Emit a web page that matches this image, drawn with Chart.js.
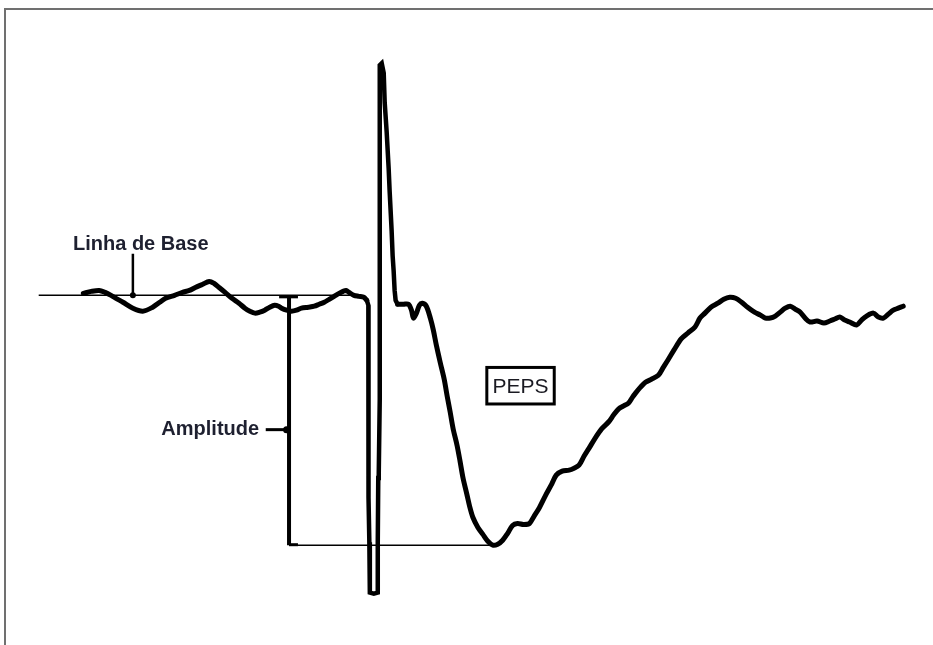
<!DOCTYPE html>
<html>
<head>
<meta charset="utf-8">
<script src="https://cdn.jsdelivr.net/npm/chart.js@4"></script>
<style>
  html, body { margin: 0; padding: 0; background: #fff; }
  #wrap { position: relative; width: 933px; height: 645px; overflow: hidden; background:#fff; }
  #frame { position: absolute; left: 4px; top: 8px; width: 960px; height: 700px;
           border-top: 2px solid #707070; border-left: 2px solid #707070; pointer-events:none; }
  canvas { position: absolute; left: 0; top: 0; }
</style>
</head>
<body>
<div id="wrap">
<canvas id="c" width="933" height="645"></canvas>
<div id="frame"></div>
</div>
<script>
// Time (ms) and membrane potential relative to baseline (mV) of the recorded trace
const timeMs = [8.0,8.8,9.6,10.2,10.8,11.3,12.0,13.0,14.0,15.0,15.7,16.3,17.2,18.0,18.7,19.3,20.0,20.7,21.2,21.7,22.3,23.0,23.7,24.3,24.8,25.3,25.8,26.3,26.8,27.3,27.7,28.0,28.5,29.0,29.5,30.0,30.7,31.3,31.8,32.3,32.8,33.3,33.8,34.2,34.5,34.8,35.3,35.8,36.3,36.6,36.75,36.75,36.75,36.8,36.85,36.9,37.3,37.7,37.7,37.75,37.8,37.9,37.9,37.9,38.1,38.3,38.4,38.6,38.8,38.9,39.1,39.2,39.3,39.4,39.5,39.7,40.3,40.8,41.1,41.3,41.6,41.9,42.2,42.6,43.0,43.3,43.6,44.0,44.4,44.7,45.0,45.3,45.7,46.0,46.3,46.7,47.0,47.3,47.8,48.3,48.8,49.3,49.8,50.3,50.8,51.3,51.8,52.4,53.0,53.5,54.0,54.6,55.2,55.7,56.3,57.0,57.5,58.0,58.5,59.0,59.6,60.3,61.0,61.5,62.0,62.5,63.0,63.4,63.7,64.2,64.7,65.3,66.0,66.5,67.0,67.6,68.3,69.0,69.7,70.2,70.7,71.3,72.0,72.6,73.2,73.8,74.4,75.0,75.7,76.3,76.8,77.3,77.8,78.3,78.8,79.3,79.8,80.3,80.8,81.3,82.0,82.7,83.3,83.8,84.3,84.8,85.3,86.0,86.5,87.0,87.7,88.2,88.7,89.2,89.7,90.2,90.7];
const voltageMv = [0.2,0.4,0.5,0.3,0.0,-0.3,-0.7,-1.3,-1.6,-1.2,-0.7,-0.3,0.0,0.3,0.5,0.8,1.1,1.4,1.2,0.8,0.3,-0.3,-0.8,-1.3,-1.6,-1.8,-1.7,-1.5,-1.2,-1.0,-1.1,-1.3,-1.5,-1.6,-1.5,-1.3,-1.2,-1.1,-0.9,-0.7,-0.4,-0.1,0.2,0.4,0.5,0.3,0.0,-0.1,-0.2,-0.5,-1.0,-3.5,-10.5,-20.5,-25.0,-30.1,-30.2,-30.1,-25.0,-18.5,-18.0,-10.5,9.5,23.3,23.5,22.5,19.5,16.5,12.8,10.5,6.5,4.0,2.5,0.5,-0.5,-0.9,-0.9,-0.9,-1.5,-2.3,-1.8,-1.0,-0.8,-1.1,-2.3,-3.5,-5.0,-6.8,-8.5,-10.2,-11.8,-13.5,-15.2,-16.8,-18.5,-20.2,-21.5,-22.5,-23.5,-24.2,-24.9,-25.3,-25.2,-24.8,-24.1,-23.3,-23.1,-23.2,-23.1,-22.3,-21.5,-20.3,-19.2,-18.2,-17.8,-17.7,-17.5,-17.2,-16.3,-15.5,-14.5,-13.5,-12.8,-12.1,-11.5,-11.2,-10.9,-10.3,-9.9,-9.3,-8.8,-8.5,-8.1,-7.3,-6.5,-5.5,-4.4,-3.8,-3.2,-2.3,-1.8,-1.2,-0.8,-0.4,-0.2,-0.3,-0.7,-1.2,-1.7,-2.0,-2.3,-2.3,-2.1,-1.7,-1.3,-1.1,-1.4,-1.7,-2.3,-2.7,-2.6,-2.8,-2.6,-2.4,-2.2,-2.5,-2.7,-3.0,-2.5,-2.1,-1.8,-2.2,-2.3,-1.9,-1.5,-1.3,-1.1];
// Sample indices bounding the stimulus artifact (drawn without smoothing)
const artifactStart = 49;
const artifactEnd = 75;

// Annotation values (ms, mV)
const baselineSpan = [3.5, 35.0];
const baselineLevel = 0;
const peakLevel = -25.3;
const amplitudeX = 28.75;
const peakX = 49.3;
const baseLabel = "Linha de Base";
const baseLabelAt = [13.8, 5.15];
const basePointer = [13.0, 4.2, 0];
const ampLabel = "Amplitude";
const ampLabelAt = [20.8, -13.6];
const ampPointer = [26.4, 28.5, -13.6];
const pepsLabel = "PEPS";
const pepsBox = [48.7, 55.5, -7.3, -11.0];

const xRange = [0, 93.3];
const yRange = [-35, 29.5];

const trace = timeMs.map((t, i) => ({ x: t, y: voltageMv[i] }));
const tracePre = trace.slice(0, artifactStart + 1);
const traceArtifact = trace.slice(artifactStart, artifactEnd + 1);
const tracePost = trace.slice(artifactEnd);

function seg(points, width, extra) {
  return Object.assign({
    data: points, borderColor: '#000', backgroundColor: '#000', borderWidth: width,
    pointRadius: 0, tension: 0, fill: false, borderCapStyle: 'butt'
  }, extra || {});
}

const labelsPlugin = {
  id: 'labels',
  afterDatasetsDraw(chart) {
    const { ctx, scales: { x, y } } = chart;
    ctx.save();
    ctx.fillStyle = '#1e2030';
    ctx.textAlign = 'center';
    ctx.textBaseline = 'middle';
    ctx.font = 'bold 20px "Liberation Sans", Arial, sans-serif';
    ctx.fillText(baseLabel, x.getPixelForValue(baseLabelAt[0]), y.getPixelForValue(baseLabelAt[1]));
    ctx.fillText(ampLabel, x.getPixelForValue(ampLabelAt[0]), y.getPixelForValue(ampLabelAt[1]));
    // PEPS box
    const x0 = x.getPixelForValue(pepsBox[0]), x1 = x.getPixelForValue(pepsBox[1]);
    const y0 = y.getPixelForValue(pepsBox[2]), y1 = y.getPixelForValue(pepsBox[3]);
    ctx.lineWidth = 3;
    ctx.strokeStyle = '#000';
    ctx.strokeRect(x0, y0, x1 - x0, y1 - y0);
    ctx.font = '21px "Liberation Sans", Arial, sans-serif';
    ctx.fillStyle = '#1a1a22';
    ctx.fillText(pepsLabel, (x0 + x1) / 2, (y0 + y1) / 2 + 1);
    ctx.restore();
  }
};

new Chart(document.getElementById('c'), {
  type: 'line',
  data: {
    datasets: [
      seg(tracePre, 5, { borderJoinStyle: 'round', borderCapStyle: 'round', tension: 0.3 }),
      seg(traceArtifact, 4.5, { borderJoinStyle: 'miter', borderCapStyle: 'round', tension: 0 }),
      seg(tracePost, 5, { borderJoinStyle: 'round', borderCapStyle: 'round', tension: 0.3 }),
      seg([{ x: baselineSpan[0], y: baselineLevel }, { x: baselineSpan[1], y: baselineLevel }], 1.5),
      seg([{ x: amplitudeX, y: baselineLevel - 0.1 }, { x: amplitudeX, y: peakLevel }], 4),
      seg([{ x: amplitudeX - 1.0, y: baselineLevel - 0.15 }, { x: amplitudeX + 0.9, y: baselineLevel - 0.15 }], 3),
      seg([{ x: amplitudeX, y: peakLevel }, { x: peakX, y: peakLevel }], 1.5),
      seg([{ x: amplitudeX, y: peakLevel + 0.05 }, { x: amplitudeX + 0.9, y: peakLevel + 0.05 }], 3),
      seg([{ x: basePointer[0], y: basePointer[1] }, { x: basePointer[0], y: basePointer[2] }], 2.5,
          { pointRadius: [0, 3], pointBorderWidth: 0 }),
      seg([{ x: ampPointer[0], y: ampPointer[2] }, { x: ampPointer[1], y: ampPointer[2] }], 3,
          { pointRadius: [0, 3.5], pointBorderWidth: 0 })
    ]
  },
  options: {
    responsive: false,
    animation: false,
    events: [],
    layout: { padding: 0 },
    plugins: { legend: { display: false }, tooltip: { enabled: false }, title: { display: false } },
    scales: {
      x: { type: 'linear', min: xRange[0], max: xRange[1], display: false },
      y: { type: 'linear', min: yRange[0], max: yRange[1], display: false }
    }
  },
  plugins: [labelsPlugin]
});
</script>
</body>
</html>
